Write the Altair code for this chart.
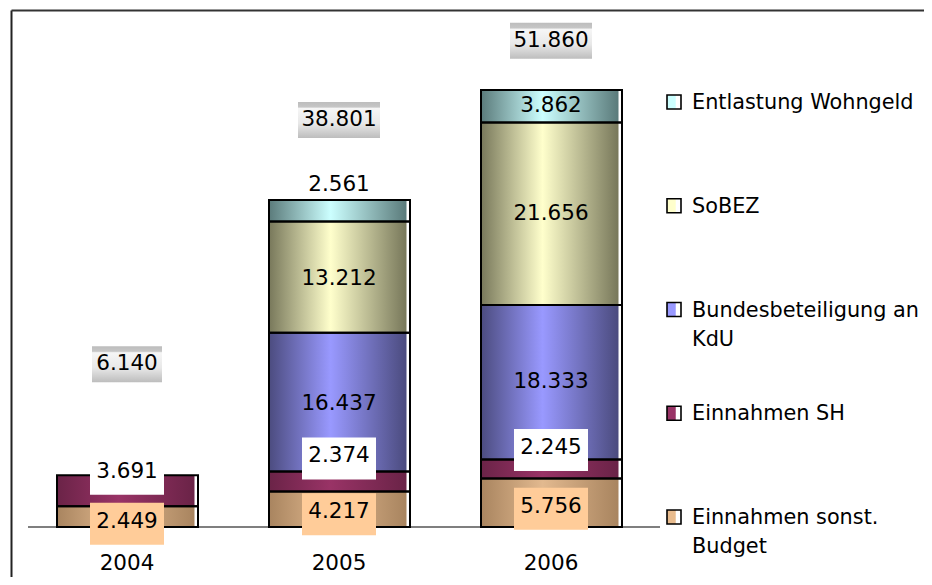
import altair as alt
import pandas as pd

# ---------------- data ----------------
years = ["2004", "2005", "2006"]
series = ["Einnahmen sonst. Budget", "Einnahmen SH", "Bundesbeteiligung an KdU", "SoBEZ", "Entlastung Wohngeld"]
legend_labels = ["Einnahmen sonst.\nBudget", "Einnahmen SH", "Bundesbeteiligung an\nKdU", "SoBEZ", "Entlastung Wohngeld"]
einnahmen_sonst = [2449, 4217, 5756]
einnahmen_sh = [3691, 2374, 2245]
bundesbeteiligung = [0, 16437, 18333]
sobez = [0, 13212, 21656]
wohngeld = [0, 2561, 3862]
totals = [6140, 38801, 51860]

# ---------------- styles / layout ----------------
FONT = "DejaVu Sans"
FS = 21.5
LFS = 20.8
center_col = ["#E2B98F", "#993366", "#9999FF", "#FFFFCC", "#CCFFFF"]
edge_col = ["#A8845F", "#6A2347", "#4B4B7E", "#77775A", "#5A7A7A"]
legend_col = ["#E9BC8E", "#993366", "#9999FF", "#FFFFCC", "#CCFFFF"]
label_bg = {"Einnahmen sonst. Budget": "#FFCC99", "Einnahmen SH": "#FFFFFF"}
# manual label nudges in pixels (positive = down), as in the original
nudge = {("2004", "Einnahmen sonst. Budget"): 5, ("2004", "Einnahmen SH"): -19,
         ("2005", "Einnahmen sonst. Budget"): 3, ("2005", "Einnahmen SH"): -25,
         ("2005", "Bundesbeteiligung an KdU"): 2, ("2005", "SoBEZ"): 2,
         ("2005", "Entlastung Wohngeld"): -26,
         ("2006", "Einnahmen sonst. Budget"): 4, ("2006", "Einnahmen SH"): -21}
total_lift_px = [111, 80, 49]

W, H = 916, 569
BASE = 519            # pixel row of value 0
PX = 8.43 / 1000      # pixels per unit
Y_MIN = -(H - BASE) / PX
Y_MAX = BASE / PX


def de(v):
    return f"{v:,}".replace(",", ".")


vals = [einnahmen_sonst, einnahmen_sh, bundesbeteiligung, sobez, wohngeld]
rows = []
for i, yr in enumerate(years):
    cum = 0
    for j, s in enumerate(series):
        v = vals[j][i]
        if v > 0:
            mid = cum + v / 2
            ly = mid - nudge.get((yr, s), 0) / PX
            rows.append(dict(year=yr, series=s, v=v, y0=cum, y1=cum + v,
                             label_y=ly, text=de(v),
                             box_top=ly - 2 / PX + 21 / PX, box_bot=ly - 2 / PX - 21 / PX))
        cum += v
seg = pd.DataFrame(rows)

tot = pd.DataFrame({"year": years, "total": totals})
tot["text"] = [de(t) for t in totals]
tot["label_y"] = [t + l / PX for t, l in zip(totals, total_lift_px)]
tot["box_top"] = tot["label_y"] + 18 / PX
tot["box_bot"] = tot["label_y"] - 18 / PX
tot["bw"] = [12 * len(s) + 10 for s in tot["text"]]

leg = pd.DataFrame({"series": series, "label": legend_labels})

xs = alt.Scale(domain=years, range=[13, 649], paddingInner=0, paddingOuter=0)
ys = alt.Scale(domain=[Y_MIN, Y_MAX], nice=False, zero=False)
X = alt.X("year:N", scale=xs, axis=None)

layers = []
one = pd.DataFrame({"a": [0]})

# frame lines and baseline
layers.append(alt.Chart(one).mark_rule(color="#222222", strokeWidth=2).encode(
    x=alt.value(3.5), y=alt.value(2.5), y2=alt.value(H)))
layers.append(alt.Chart(one).mark_rule(color="#333333", strokeWidth=2).encode(
    x=alt.value(3.5), x2=alt.value(W), y=alt.value(2.5)))
layers.append(alt.Chart(one).mark_rule(color="#555555", strokeWidth=1.5).encode(
    x=alt.value(20), x2=alt.value(652), y=alt.value(BASE)))

# bar segments with gradients
for j, s in enumerate(series):
    grad = alt.Gradient(gradient="linear", x1=0, x2=1, y1=0, y2=0, stops=[
        alt.GradientStop(color=edge_col[j], offset=0),
        alt.GradientStop(color=center_col[j], offset=0.45),
        alt.GradientStop(color=edge_col[j], offset=1)])
    layers.append(alt.Chart(seg).transform_filter(alt.datum.series == s).mark_bar(
        size=138, xOffset=-1.5, fill=grad, strokeWidth=0).encode(
        x=X, y=alt.Y("y0:Q", scale=ys, axis=None), y2="y1:Q"))

# 3D-ish outline
layers.append(alt.Chart(seg).mark_bar(size=141, xOffset=0.5, fill="transparent",
                                      stroke="black", strokeWidth=2).encode(
    x=X, y=alt.Y("y0:Q", scale=ys, axis=None), y2="y1:Q"))

# label backgrounds
for s, c in label_bg.items():
    layers.append(alt.Chart(seg).transform_filter(alt.datum.series == s).mark_bar(
        size=74, fill=c, strokeWidth=0).encode(
        x=X, y=alt.Y("box_bot:Q", scale=ys, axis=None), y2="box_top:Q"))

# segment labels
layers.append(alt.Chart(seg).mark_text(font=FONT, fontSize=FS, color="black",
                                       baseline="middle", align="center").encode(
    x=X, y=alt.Y("label_y:Q", scale=ys, axis=None), text="text:N"))

# total boxes + labels
gray = alt.Gradient(gradient="linear", x1=0, x2=0, y1=0, y2=1, stops=[
    alt.GradientStop(color="#BDBDBD", offset=0),
    alt.GradientStop(color="#C6C6C6", offset=0.14),
    alt.GradientStop(color="#F6F6F6", offset=0.18),
    alt.GradientStop(color="#E8E8E8", offset=0.6),
    alt.GradientStop(color="#BDBDBD", offset=1)])
layers.append(alt.Chart(tot).mark_bar(fill=gray, strokeWidth=0).encode(
    x=X, y=alt.Y("box_bot:Q", scale=ys, axis=None), y2="box_top:Q",
    size=alt.Size("bw:Q", scale=None, legend=None)))
layers.append(alt.Chart(tot).mark_text(font=FONT, fontSize=FS, color="black",
                                       baseline="middle", align="center").encode(
    x=X, y=alt.Y("label_y:Q", scale=ys, axis=None), text="text:N"))

# category labels
layers.append(alt.Chart(tot).mark_text(font=FONT, fontSize=FS, color="black",
                                       baseline="middle", align="center").encode(
    x=X, y=alt.value(555.5), text="year:N"))

# legend
ly = alt.Y("series:N", scale=alt.Scale(type="point", domain=series[::-1], range=[94, 509], padding=0), axis=None)
layers.append(alt.Chart(leg).mark_point(shape="square", size=196, filled=True, fill="white",
                                        opacity=1, strokeWidth=0).encode(x=alt.value(666), y=ly))
layers.append(alt.Chart(leg).mark_point(shape="M-1,-1H0.25V1H-1Z", size=196, filled=True,
                                        opacity=1, strokeWidth=0).encode(
    x=alt.value(666), y=ly,
    color=alt.Color("series:N", scale=alt.Scale(domain=series, range=legend_col), legend=None)))
layers.append(alt.Chart(leg).mark_point(shape="square", size=196, filled=False, color="black",
                                        opacity=1, strokeWidth=1.6).encode(x=alt.value(666), y=ly))
layers.append(alt.Chart(leg).mark_text(font=FONT, fontSize=LFS, color="black", align="left",
                                       baseline="top", dy=-9, lineBreak="\n", lineHeight=29).encode(
    x=alt.value(684), y=ly, text="label:N"))

chart = alt.layer(*layers).resolve_scale(y="independent").properties(
    width=W, height=H, padding=0, autosize=alt.AutoSizeParams(type="none"), background="white"
).configure_view(stroke=None)

chart.save("out.html", embed_options={"renderer": "svg", "actions": False})
